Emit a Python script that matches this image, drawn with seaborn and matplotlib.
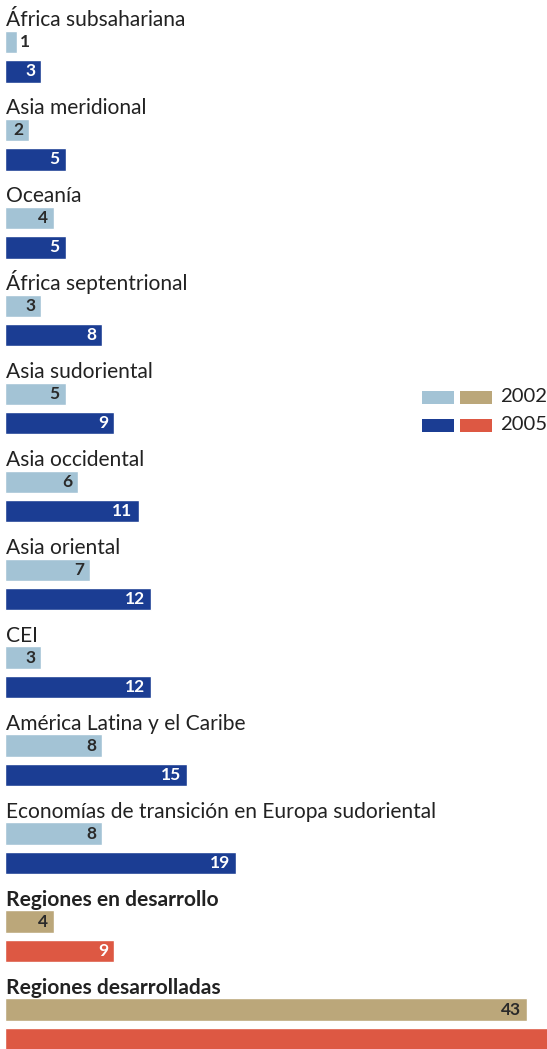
import matplotlib
import matplotlib.pyplot as plt
import pandas as pd
import seaborn as sns
from matplotlib.patches import Rectangle

matplotlib.use("Agg")

regions = [
    "África subsahariana",
    "Asia meridional",
    "Oceanía",
    "África septentrional",
    "Asia sudoriental",
    "Asia occidental",
    "Asia oriental",
    "CEI",
    "América Latina y el Caribe",
    "Economías de transición en Europa sudoriental",
    "Regiones en desarrollo",
    "Regiones desarrolladas",
]
values_2002 = [1, 2, 4, 3, 5, 6, 7, 3, 8, 8, 4, 43]
values_2005 = [3, 5, 5, 8, 9, 11, 12, 12, 15, 19, 9, 45]
bold_regions = {"Regiones en desarrollo", "Regiones desarrolladas"}

light_blue = "#a3c3d5"
dark_blue = "#1b3d93"
tan = "#bba77a"
red = "#dd5843"

# three slots per region: title row, 2002 bar, 2005 bar
rows = []
for i, name in enumerate(regions):
    agg = name in bold_regions
    rows.append({"slot": f"t{i}", "value": 0, "color": "white"})
    rows.append({"slot": f"a{i}", "value": values_2002[i],
                 "color": tan if agg else light_blue})
    rows.append({"slot": f"b{i}", "value": values_2005[i],
                 "color": red if agg else dark_blue})
df = pd.DataFrame(rows)

sns.set_theme(style="white")
plt.rcParams["font.family"] = ["Lato", "DejaVu Sans"]

fig = plt.figure(figsize=(5.47, 10.49), dpi=100)
ax = fig.add_axes([0, 0, 1, 1])

sns.barplot(
    data=df, x="value", y="slot", hue="slot",
    palette=dict(zip(df["slot"], df["color"])),
    order=list(df["slot"]), legend=False, width=0.77,
    saturation=1, ax=ax,
)

px = 12.15  # pixels per unit
xmax = (547 - 5) / px
ax.set_xlim(-5 / px, xmax)
ax.set_ylim(35.34, -0.43)
ax.axis("off")

for i, name in enumerate(regions):
    ax.text(0.05, 3 * i + 0.45, name, fontsize=15.1, va="baseline", ha="left",
            color="#222222", fontweight="bold" if name in bold_regions else "normal")
    for k, (val, col) in enumerate([(values_2002[i], "#2a2a2a"),
                                    (values_2005[i], "white")]):
        y = 3 * i + 1 + k
        if val >= xmax:
            continue
        if val < 2:
            ax.text(val + 3 / px, y, str(val), fontsize=12.5, fontweight="bold",
                    ha="left", va="center", color="#2a2a2a")
        else:
            ax.text(val - 6 / px, y, str(val), fontsize=12.5, fontweight="bold",
                    ha="right", va="center", color=col)

# legend drawn by hand
W, H = 547, 1049
for yc, (c1, c2), lab in [(397, (light_blue, tan), "2002"),
                          (425, (dark_blue, red), "2005")]:
    for x0, c in [(422, c1), (460, c2)]:
        fig.add_artist(Rectangle((x0 / W, (H - yc - 6.5) / H), 32 / W, 13 / H,
                                 transform=fig.transFigure, color=c, lw=0))
    fig.text(500 / W, (H - yc) / H, lab, fontsize=14.6, va="center",
             ha="left", color="#222222")

fig.savefig("out.png", dpi=100, facecolor="white")
